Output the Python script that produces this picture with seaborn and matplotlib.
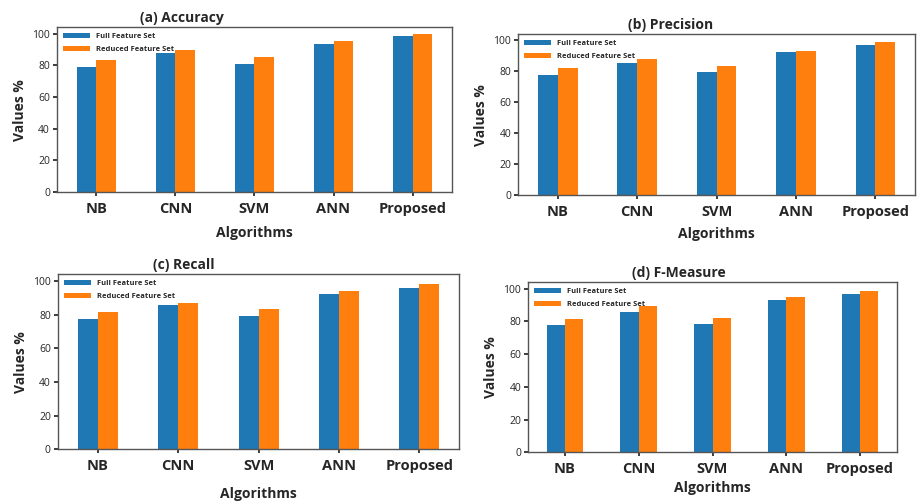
import pandas as pd
import numpy as np
import matplotlib.pyplot as plt
import seaborn as sns

# Data
algorithms = ["NB", "CNN", "SVM", "ANN", "Proposed"]
feature_sets = ["Full Feature Set", "Reduced Feature Set"]

accuracy_full = [79.0, 87.8, 80.7, 93.5, 98.3]
accuracy_reduced = [83.6, 89.9, 84.9, 95.2, 99.4]

precision_full = [77.7, 85.3, 79.9, 92.2, 97.2]
precision_reduced = [82.0, 88.1, 83.5, 93.3, 99.1]

recall_full = [77.3, 85.5, 79.3, 92.2, 95.5]
recall_reduced = [81.8, 87.1, 83.4, 93.9, 98.2]

fmeasure_full = [78.0, 85.5, 78.2, 92.9, 96.6]
fmeasure_reduced = [81.7, 89.3, 82.3, 95.0, 98.6]

titles = ["(a) Accuracy", "(b) Precision", "(c) Recall", "(d) F-Measure"]

COLORS = {'Full Feature Set': '#1f77b4', 'Reduced Feature Set': '#ff7f0e'}

sns.set_theme(style="ticks")
plt.rcParams['font.family'] = ['Open Sans', 'DejaVu Sans']


def make_df(full, reduced):
    return pd.DataFrame({
        'Algorithm': algorithms * 2,
        'Feature Set': [feature_sets[0]] * len(algorithms) + [feature_sets[1]] * len(algorithms),
        'Value': full + reduced,
    })


# (data, axes rect, title x, xlabel pad)
panels = [
    (make_df(accuracy_full, accuracy_reduced), [0.062, 0.618, 0.431, 0.328], 0.316, 7),
    (make_df(precision_full, precision_reduced), [0.565, 0.612, 0.433, 0.320], 0.383, 6),
    (make_df(recall_full, recall_reduced), [0.063, 0.107, 0.438, 0.348], 0.313, 10),
    (make_df(fmeasure_full, fmeasure_reduced), [0.576, 0.101, 0.402, 0.338], 0.410, 4),
]

fig = plt.figure(figsize=(9.17, 5.03), dpi=100)

for (df, rect, title_x, xlab_pad), title in zip(panels, titles):
    ax = fig.add_axes(rect)
    sns.barplot(data=df, x='Algorithm', y='Value', hue='Feature Set',
                palette=COLORS, width=0.5, saturation=1, ax=ax, gap=0,
                linewidth=0, edgecolor='none')
    ax.set_xlim(-0.5, 4.5)
    ax.set_ylim(0, 104)
    ax.set_yticks([0, 20, 40, 60, 80, 100])
    ax.tick_params(axis='y', labelsize=7.5, length=3, pad=2)
    ax.tick_params(axis='x', labelsize=10.5, length=3, pad=4)
    for lab in ax.get_xticklabels():
        lab.set_fontweight('bold')
    ax.set_ylabel("Values %", fontsize=10, fontweight='bold')
    ax.set_xlabel("Algorithms", fontsize=10, fontweight='bold', labelpad=xlab_pad)
    ax.set_title(title, fontsize=10, fontweight='bold', x=title_x, pad=4)
    for sp in ax.spines.values():
        sp.set_color('#555555')
        sp.set_linewidth(1.0)
    ax.legend(loc='upper left', frameon=False, handlelength=3.6,
              handleheight=0.7, borderaxespad=0.4, labelspacing=0.7,
              prop={'weight': 'bold', 'size': 5.4})

plt.savefig("out.png", dpi=100)
plt.close()
